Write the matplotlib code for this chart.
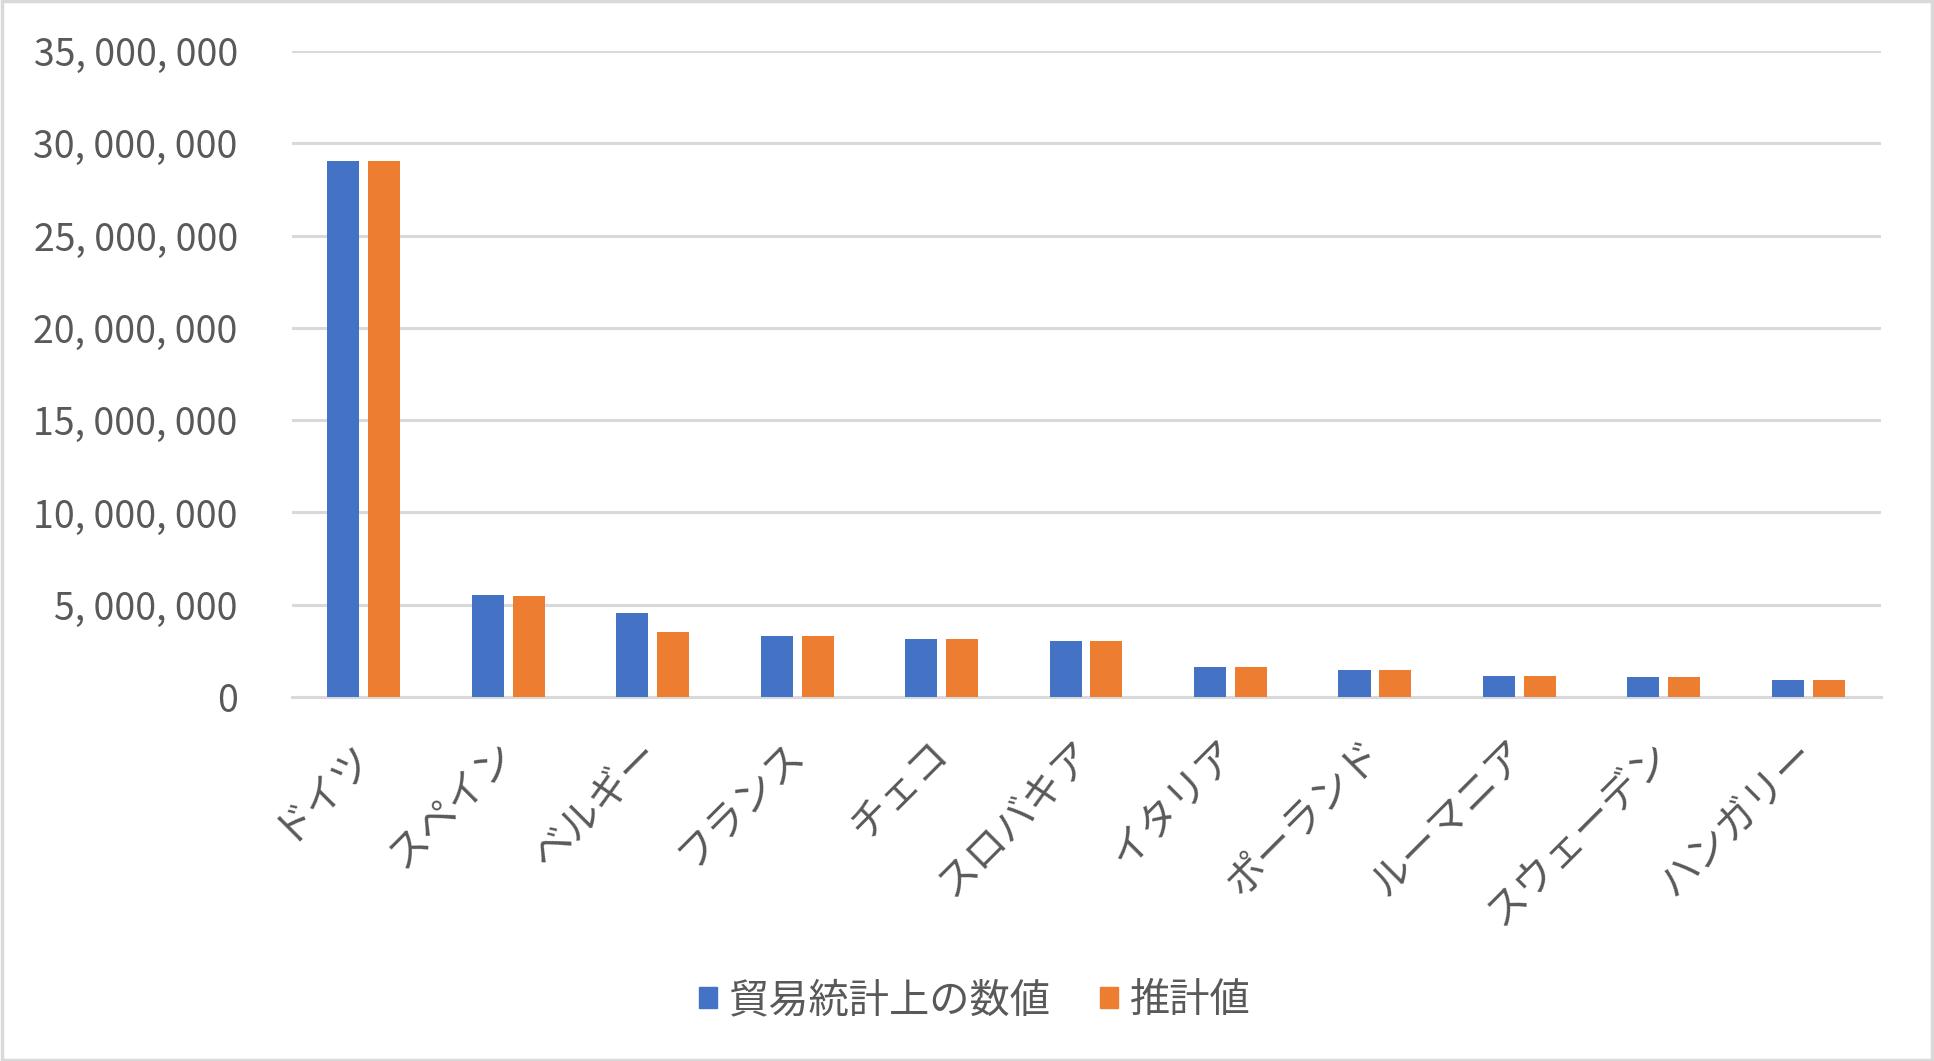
import matplotlib.pyplot as plt
from matplotlib.patches import Patch, Rectangle
import numpy as np

plt.rcParams['font.family'] = ['Noto Sans CJK JP', 'DejaVu Sans']

kuniler = ['ドイツ', 'スペイン', 'ベルギー', 'フランス', 'チェコ', 'スロバキア',
           'イタリア', 'ポーランド', 'ルーマニア', 'スウェーデン', 'ハンガリー']
boeki = [29050000, 5530000, 4550000, 3300000, 3140000, 3030000,
         1630000, 1460000, 1140000, 1080000, 920000]
suikei = [29050000, 5470000, 3520000, 3300000, 3140000, 3030000,
          1630000, 1460000, 1140000, 1080000, 920000]
seri_adlari = ['貿易統計上の数値', '推計値']
y_ticks = [0, 5000000, 10000000, 15000000, 20000000, 25000000, 30000000, 35000000]

mavi = '#4472C4'
turuncu = '#ED7D31'
yazi = '#595959'
grid = '#D9D9D9'

fig = plt.figure(figsize=(19.34, 10.61), dpi=100)
ax = fig.add_axes([0.151, 0.343, 0.8216, 0.609])

x = np.arange(len(kuniler))
w = 0.222
ax.bar(x - 0.145, boeki, width=w, color=mavi, zorder=3)
ax.bar(x + 0.138, suikei, width=w, color=turuncu, zorder=3)

ax.set_xlim(-0.5, len(kuniler) - 0.5)
ax.set_ylim(0, 35000000)
ax.set_yticks(y_ticks)
ax.set_yticklabels([f"{v:,}".replace(",", ", ") for v in y_ticks])
ax.yaxis.grid(True, color=grid, linewidth=2.2, zorder=0)
ax.set_axisbelow(True)

ax.set_xticks(x)
ax.set_xticklabels(kuniler, rotation=45, ha='right', va='center',
                   rotation_mode='anchor')
ax.tick_params(axis='x', length=0, pad=36, labelsize=29, labelcolor=yazi)
ax.tick_params(axis='y', length=0, pad=39, labelsize=27, labelcolor=yazi)

for s in ['left', 'right', 'top']:
    ax.spines[s].set_visible(False)
ax.spines['bottom'].set_color(grid)
ax.spines['bottom'].set_linewidth(2.2)

handles = [Patch(color=mavi), Patch(color=turuncu)]
fig.legend(handles, seri_adlari, loc='center', bbox_to_anchor=(0.504, 0.057),
           ncol=2, frameon=False, fontsize=29, labelcolor=yazi,
           handlelength=0.45, handleheight=0.45, handletextpad=0.3,
           columnspacing=1.2)

fig.patches.append(Rectangle((0.001, 0.001), 0.998, 0.998, transform=fig.transFigure,
                             fill=False, edgecolor=grid, linewidth=2.5))

fig.savefig('out.png', dpi=100)
